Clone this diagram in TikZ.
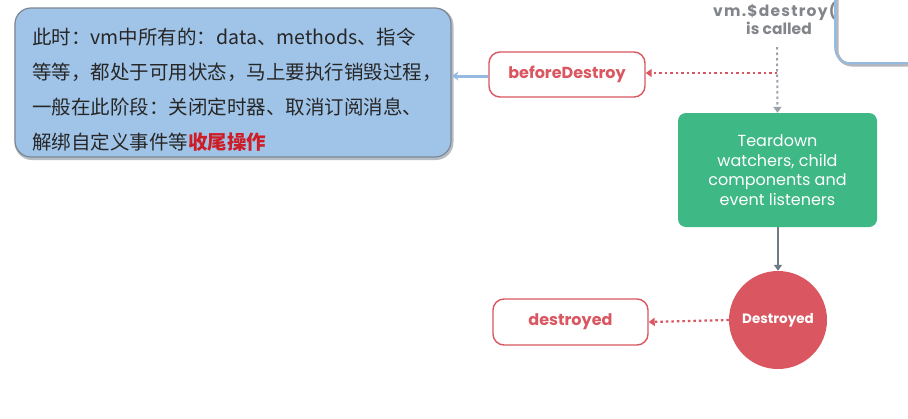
\documentclass[tikz,border=0pt]{standalone}
\usepackage{fontspec}
\setmainfont{Poppins}
\newfontfamily\cjk{Noto Sans CJK SC}
\usetikzlibrary{arrows.meta,shapes.geometric}
\definecolor{vred}{RGB}{218,86,96}
\definecolor{vgreen}{RGB}{62,184,132}
\definecolor{vgray}{RGB}{130,133,138}
\definecolor{agray}{RGB}{110,122,134}
\definecolor{cblue}{RGB}{160,196,232}
\definecolor{cborder}{RGB}{125,135,148}
\definecolor{lblue}{RGB}{150,185,225}
\definecolor{hookred}{RGB}{205,30,40}
\tikzset{
  hook/.style={draw=vred, line width=1.4pt, rounded corners=11pt, fill=white,
    text=vred, font=\bfseries\fontsize{16}{18}\selectfont, inner sep=0pt},
  reddot/.style={draw=vred, line width=2.2pt, dash pattern=on 2.5pt off 3pt,
    -{Triangle[length=6pt,width=8pt]}},
  graydot/.style={draw=agray!70, line width=2pt, dash pattern=on 2.5pt off 3pt,
    -{Triangle[length=6pt,width=8pt]}},
  grayline/.style={draw=agray, line width=1.6pt, -{Triangle[length=6pt,width=8pt]}},
  blueline/.style={draw=lblue, line width=3pt, -{Stealth[length=7pt,width=9pt]}},
}
\begin{document}
\begin{tikzpicture}[x=1pt,y=-1pt]
\useasboundingbox (0,0) rectangle (908,418);
\fill[white] (0,0) rectangle (908,418);

% callout
\node[draw=cborder!55, line width=3pt, rounded corners=16pt, minimum width=436pt, minimum height=149pt,
  inner sep=0pt] (shadow) at (234,84) {};
\node[draw=cborder, fill=cblue, line width=1.2pt, rounded corners=16pt, minimum width=436pt,
  minimum height=149pt, inner sep=0pt] (callout) at (233,82.5) {};
\node[anchor=north west, inner sep=0pt, align=left, font=\cjk\fontsize{19.5}{35}\selectfont,
  text=black!85] (ctext) at (32,28)
  {此时：vm中所有的：data、methods、指令\\
   等等，都处于可用状态，马上要执行销毁过程，\\
   一般在此阶段：关闭定时器、取消订阅消息、\\
   解绑自定义事件等{\color{hookred}\bfseries 收尾操作}};

% nodes
\node[hook, minimum width=156pt, minimum height=45pt] (bd) at (567,74.5) {beforeDestroy};
\node[font=\bfseries\fontsize{15.5}{18}\selectfont, text=vgray, align=center, inner sep=0pt] (call)
  at (779,18) {{\addfontfeature{LetterSpace=8}vm.\$destroy()}\\is called};
\node[fill=vgreen, rounded corners=8pt, minimum width=199pt, minimum height=114pt, text=white,
  align=center, font=\fontsize{16}{19.5}\selectfont, inner sep=0pt] (tear) at (777.5,170)
  {Teardown\\watchers, child\\components and\\event listeners};
\node[circle, fill=vred, minimum size=98pt, inner sep=0pt, text=white,
  font=\bfseries\fontsize{13.5}{15}\selectfont] (dd) at (778,320) {Destroyed};
\node[hook, minimum width=155pt, minimum height=46pt] (dh) at (570.5,322) {destroyed};

% top-right window corner (drawn over the label)
\begin{scope}
\clip (0,0) rectangle (908,418);
\fill[white, rounded corners=15pt] (836,-10) -- (836,64) -- (920,64) -- (920,-10) -- cycle;
\draw[cborder!60, line width=3pt, rounded corners=15pt] (837,-10) -- (837,65) -- (920,65);
\draw[lblue, line width=1.6pt, rounded corners=15pt] (835,-10) -- (835,63) -- (920,63);
\end{scope}

% connectors
\coordinate (ctop) at (777,47);
\coordinate (cj) at (777,73);
\draw[graydot] (ctop) -- (tear.north);
\draw[reddot] (cj) -- (bd.east |- cj);
\draw[blueline] (bd.west |- 0,76) -- (callout.east |- 0,76);
\draw[grayline] (tear.south -| dd.north) -- (dd.north);
\draw[reddot] (dd.west) -- (dh.east);
\end{tikzpicture}
\end{document}
